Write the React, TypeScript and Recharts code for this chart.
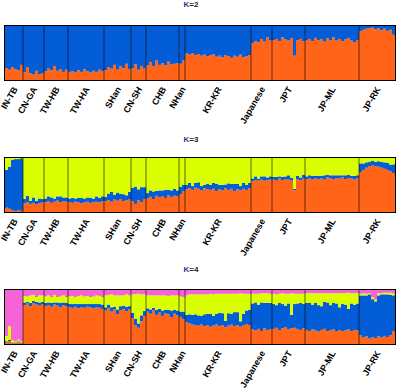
import { BarChart, Bar, XAxis, YAxis, ReferenceLine, ReferenceArea } from "recharts";

const populations = ["IN-TB", "CN-GA", "TW-HB", "TW-HA", "SHan", "CN-SH", "CHB", "NHan", "KR-KR", "Japanese", "JPT", "JP-ML", "JP-RK"];
const popSizes = [6, 7, 8, 12, 9, 5, 11, 2, 22, 7, 11, 18, 12];

// K=2 : orange share per individual (blue is the rest)
const k2Orange = [
  0.22, 0.19, 0.24, 0.2, 0.18, 0.28,
  0.14, 0.24, 0.12, 0.1, 0.17, 0.11, 0.13,
  0.16, 0.21, 0.18, 0.26, 0.17, 0.2, 0.15, 0.19,
  0.15, 0.16, 0.14, 0.18, 0.15, 0.2, 0.16, 0.14, 0.17, 0.15, 0.19, 0.16,
  0.18, 0.24, 0.21, 0.28, 0.19, 0.25, 0.22, 0.3, 0.2,
  0.22, 0.29, 0.19, 0.26, 0.21,
  0.27, 0.33, 0.26, 0.36, 0.28, 0.31, 0.27, 0.34, 0.29, 0.3, 0.31,
  0.3, 0.36,
  0.49, 0.47, 0.5, 0.46, 0.48, 0.45, 0.47, 0.44, 0.46, 0.48, 0.43, 0.45, 0.42, 0.46, 0.44, 0.41, 0.45, 0.43, 0.47, 0.42, 0.44, 0.46,
  0.68, 0.72, 0.7, 0.76, 0.71, 0.79, 0.73,
  0.74, 0.76, 0.72, 0.79, 0.75, 0.73, 0.77, 0.45, 0.74, 0.76, 0.72,
  0.73, 0.76, 0.72, 0.78, 0.74, 0.75, 0.71, 0.77, 0.74, 0.79, 0.73, 0.76, 0.72, 0.75, 0.78, 0.73, 0.7, 0.74,
  0.9, 0.93, 0.95, 0.96, 0.97, 0.94, 0.96, 0.92, 0.95, 0.91, 0.93, 0.84,
];

// K=3 : orange and blue shares (yellow is the rest)
const k3Orange = [
  0.08, 0.06, 0.03, 0.02, 0.03, 0.02,
  0.16, 0.18, 0.15, 0.17, 0.14, 0.16, 0.18,
  0.18, 0.2, 0.17, 0.19, 0.21, 0.18, 0.2, 0.19,
  0.18, 0.17, 0.19, 0.18, 0.16, 0.18, 0.19, 0.17, 0.18, 0.19, 0.18, 0.2,
  0.2, 0.22, 0.19, 0.23, 0.21, 0.24, 0.2, 0.22, 0.23,
  0.2, 0.15, 0.22, 0.18, 0.24,
  0.25, 0.28, 0.24, 0.3, 0.27, 0.29, 0.26, 0.31, 0.28, 0.3, 0.29,
  0.33, 0.38,
  0.42, 0.44, 0.41, 0.45, 0.43, 0.4, 0.44, 0.42, 0.41, 0.43, 0.39, 0.42, 0.4, 0.44, 0.41, 0.43, 0.38, 0.42, 0.4, 0.43, 0.41, 0.44,
  0.57, 0.59, 0.58, 0.6, 0.58, 0.59, 0.6,
  0.6, 0.58, 0.62, 0.59, 0.61, 0.6, 0.58, 0.4, 0.61, 0.59, 0.62,
  0.61, 0.62, 0.6, 0.63, 0.61, 0.62, 0.6, 0.64, 0.62, 0.61, 0.63, 0.62, 0.64, 0.61, 0.63, 0.62, 0.6, 0.62,
  0.74, 0.78, 0.82, 0.85, 0.86, 0.85, 0.84, 0.82, 0.8, 0.78, 0.76, 0.72,
];
const k3Blue = [
  0.7, 0.78, 0.94, 0.96, 0.95, 0.97,
  0.08, 0.12, 0.06, 0.1, 0.07, 0.09, 0.06,
  0.07, 0.09, 0.1, 0.06, 0.08, 0.11, 0.07, 0.08,
  0.07, 0.09, 0.06, 0.08, 0.1, 0.07, 0.08, 0.09, 0.07, 0.1, 0.08, 0.09,
  0.08, 0.12, 0.18, 0.09, 0.15, 0.1, 0.13, 0.09, 0.14,
  0.25, 0.32, 0.2, 0.28, 0.22,
  0.1, 0.12, 0.14, 0.09, 0.13, 0.11, 0.15, 0.1, 0.12, 0.13, 0.11,
  0.14, 0.12,
  0.08, 0.1, 0.07, 0.09, 0.12, 0.08, 0.06, 0.1, 0.09, 0.11, 0.13, 0.08, 0.1, 0.07, 0.12, 0.09, 0.14, 0.1, 0.08, 0.11, 0.09, 0.1,
  0.05, 0.07, 0.04, 0.06, 0.08, 0.05, 0.06,
  0.05, 0.07, 0.04, 0.06, 0.05, 0.08, 0.05, 0.03, 0.06, 0.05, 0.07,
  0.05, 0.06, 0.07, 0.04, 0.06, 0.05, 0.08, 0.05, 0.06, 0.07, 0.05, 0.06, 0.04, 0.07, 0.06, 0.05, 0.07, 0.06,
  0.16, 0.12, 0.1, 0.08, 0.09, 0.08, 0.1, 0.11, 0.12, 0.13, 0.12, 0.16,
];

// K=4 : orange, blue and yellow shares (pink is the rest)
const k4Orange = [
  0.03, 0.05, 0.02, 0.02, 0.03, 0.02,
  0.72, 0.75, 0.7, 0.76, 0.73, 0.71, 0.74,
  0.7, 0.72, 0.69, 0.73, 0.71, 0.68, 0.72, 0.7,
  0.68, 0.67, 0.69, 0.66, 0.68, 0.67, 0.69, 0.68, 0.66, 0.68, 0.67, 0.65,
  0.62, 0.66, 0.6, 0.64, 0.55, 0.63, 0.65, 0.61, 0.64,
  0.48, 0.35, 0.3, 0.42, 0.52,
  0.6, 0.56, 0.62, 0.54, 0.58, 0.52, 0.57, 0.55, 0.5, 0.56, 0.53,
  0.5, 0.46,
  0.4, 0.38, 0.36, 0.35, 0.34, 0.36, 0.33, 0.35, 0.32, 0.34, 0.36, 0.33, 0.35, 0.31, 0.34, 0.36, 0.33, 0.35, 0.32, 0.34, 0.37, 0.35,
  0.27, 0.25, 0.28, 0.24, 0.29, 0.26, 0.27,
  0.28, 0.3, 0.26, 0.29, 0.31, 0.27, 0.29, 0.3, 0.28, 0.26, 0.29,
  0.26, 0.24, 0.27, 0.25, 0.23, 0.26, 0.28, 0.24, 0.25, 0.27, 0.23, 0.26, 0.24, 0.25, 0.27, 0.24, 0.26, 0.25,
  0.16, 0.12, 0.14, 0.1, 0.13, 0.11, 0.14, 0.12, 0.15, 0.13, 0.16, 0.24,
];
const k4Blue = [
  0.02, 0.03, 0.01, 0.01, 0.02, 0.01,
  0.05, 0.03, 0.06, 0.04, 0.05, 0.06, 0.04,
  0.06, 0.05, 0.07, 0.04, 0.06, 0.08, 0.05, 0.06,
  0.06, 0.07, 0.05, 0.08, 0.06, 0.07, 0.05, 0.06, 0.08, 0.06, 0.07, 0.08,
  0.06, 0.07, 0.08, 0.05, 0.09, 0.07, 0.06, 0.08, 0.06,
  0.1, 0.12, 0.08, 0.11, 0.09,
  0.06, 0.08, 0.05, 0.09, 0.07, 0.1, 0.06, 0.08, 0.12, 0.07, 0.09,
  0.1, 0.14,
  0.14, 0.17, 0.18, 0.2, 0.19, 0.16, 0.22, 0.21, 0.24, 0.18, 0.2, 0.25, 0.22, 0.12, 0.23, 0.2, 0.26, 0.24, 0.1, 0.22, 0.25, 0.28,
  0.48, 0.52, 0.45, 0.53, 0.47, 0.5, 0.49,
  0.46, 0.42, 0.5, 0.45, 0.4, 0.48, 0.25, 0.44, 0.47, 0.5, 0.45,
  0.5, 0.52, 0.46, 0.51, 0.49, 0.44, 0.5, 0.53, 0.47, 0.49, 0.52, 0.42, 0.5, 0.48, 0.38, 0.51, 0.47, 0.5,
  0.74, 0.78, 0.76, 0.82, 0.7, 0.68, 0.76, 0.8, 0.77, 0.79, 0.75, 0.66,
];
const k4Yellow = [
  0.1, 0.25, 0.04, 0.02, 0.03, 0.02,
  0.12, 0.1, 0.14, 0.11, 0.09, 0.13, 0.12,
  0.12, 0.13, 0.11, 0.14, 0.1, 0.12, 0.13, 0.11,
  0.14, 0.15, 0.13, 0.15, 0.16, 0.14, 0.15, 0.13, 0.14, 0.16, 0.15, 0.14,
  0.22, 0.18, 0.24, 0.21, 0.26, 0.2, 0.19, 0.23, 0.2,
  0.34, 0.45, 0.55, 0.39, 0.31,
  0.24, 0.26, 0.23, 0.27, 0.25, 0.28, 0.27, 0.26, 0.28, 0.27, 0.28,
  0.28, 0.27,
  0.36, 0.37, 0.38, 0.37, 0.39, 0.4, 0.37, 0.36, 0.37, 0.4, 0.37, 0.35, 0.36, 0.5, 0.36, 0.37, 0.34, 0.34, 0.52, 0.37, 0.31, 0.3,
  0.18, 0.16, 0.2, 0.17, 0.18, 0.18, 0.17,
  0.19, 0.2, 0.17, 0.2, 0.22, 0.18, 0.4, 0.19, 0.18, 0.17, 0.19,
  0.18, 0.18, 0.21, 0.18, 0.22, 0.24, 0.16, 0.17, 0.22, 0.18, 0.19, 0.26, 0.2, 0.21, 0.3, 0.19, 0.21, 0.19,
  0.03, 0.04, 0.03, 0.02, 0.04, 0.03, 0.04, 0.02, 0.03, 0.03, 0.04, 0.04,
];

const ORANGE = "#ff6418";
const BLUE = "#035dd6";
const YELLOW = "#daff00";
const PINK = "#f564d7";
const FONT = "'Liberation Sans', Arial, sans-serif";
const BAND = 3;

const popStarts: number[] = [];
const popOfIndex: number[] = [];
popSizes.forEach((n, p) => {
  popStarts.push(popOfIndex.length);
  for (let i = 0; i < n; i++) popOfIndex.push(p);
});
const ids = popOfIndex.map((_, i) => "s" + i);
const centerTicks = popStarts.map((s, p) => ids[s + Math.floor(popSizes[p] / 2)]);
const boundaryIds = popStarts.slice(1).map((s) => ids[s]);

const rowsK2 = ids.map((id, i) => ({ id, orange: k2Orange[i], blue: 1 - k2Orange[i] }));
const rowsK3 = ids.map((id, i) => ({
  id,
  orange: k3Orange[i],
  blue: k3Blue[i],
  yellow: Math.max(0, 1 - k3Orange[i] - k3Blue[i]),
}));
const rowsK4 = ids.map((id, i) => ({
  id,
  orange: k4Orange[i],
  blue: k4Blue[i],
  yellow: k4Yellow[i],
  pink: Math.max(0, 1 - k4Orange[i] - k4Blue[i] - k4Yellow[i]),
}));

const PopTick = (props: any) => {
  const { x, y, payload } = props;
  const idx = Number(String(payload.value).slice(1));
  const p = popOfIndex[idx];
  const cx = x + (popStarts[p] + popSizes[p] / 2 - (idx + 0.5)) * BAND + 4;
  const cy = y + 9;
  return (
    <text
      x={cx}
      y={cy}
      transform={`rotate(-60 ${cx} ${cy})`}
      textAnchor="end"
      fontSize={9}
      fontWeight="bold"
      fontFamily={FONT}
      fill="#000"
    >
      {populations[p]}
    </text>
  );
};

type PanelProps = {
  data: any[];
  series: { key: string; color: string }[];
  height: number;
  top: number;
  axisHeight: number;
};

const Panel = ({ data, series, height, top, axisHeight }: PanelProps) => (
  <BarChart
    width={400}
    height={height}
    data={data}
    margin={{ top, right: 5, left: 5, bottom: 0 }}
    barCategoryGap={0}
    barGap={0}
  >
    <XAxis
      dataKey="id"
      ticks={centerTicks}
      interval={0}
      height={axisHeight}
      tickLine={false}
      axisLine={false}
      tickSize={0}
      tickMargin={0}
      tick={PopTick}
    />
    <YAxis hide domain={[0, 1]} />
    {series.map((s) => (
      <Bar key={s.key} dataKey={s.key} stackId="a" fill={s.color} isAnimationActive={false} />
    ))}
    {boundaryIds.map((b) => (
      <ReferenceLine key={b} x={b} position="start" stroke="#000" strokeOpacity={0.6} strokeWidth={1} />
    ))}
    <ReferenceArea y1={0} y2={1} fill="none" stroke="#000" strokeWidth={2} />
  </BarChart>
);

const Title = ({ k, y }: { k: number; y: number }) => (
  <div
    style={{
      position: "absolute",
      left: 181,
      top: y,
      width: 20,
      textAlign: "center",
      fontFamily: FONT,
      fontWeight: "bold",
      fontSize: 8,
      lineHeight: "8px",
      color: "#222",
    }}
  >
    <span style={{ color: "#1d3a9c" }}>K</span>={k}
  </div>
);

export default function App() {
  return (
    <div style={{ position: "relative", width: 400, height: 391, background: "#fff", overflow: "hidden" }}>
      <style>{`body{margin:0}`}</style>
      <Title k={2} y={1} />
      <Title k={3} y={136} />
      <Title k={4} y={266} />
      <div style={{ position: "absolute", left: 0, top: 0 }}>
        <Panel
          data={rowsK2}
          series={[
            { key: "orange", color: ORANGE },
            { key: "blue", color: BLUE },
          ]}
          height={130}
          top={26}
          axisHeight={50}
        />
      </div>
      <div style={{ position: "absolute", left: 0, top: 130 }}>
        <Panel
          data={rowsK3}
          series={[
            { key: "orange", color: ORANGE },
            { key: "blue", color: BLUE },
            { key: "yellow", color: YELLOW },
          ]}
          height={132}
          top={28}
          axisHeight={50}
        />
      </div>
      <div style={{ position: "absolute", left: 0, top: 262 }}>
        <Panel
          data={rowsK4}
          series={[
            { key: "orange", color: ORANGE },
            { key: "blue", color: BLUE },
            { key: "yellow", color: YELLOW },
            { key: "pink", color: PINK },
          ]}
          height={129}
          top={28}
          axisHeight={47}
        />
      </div>
    </div>
  );
}
